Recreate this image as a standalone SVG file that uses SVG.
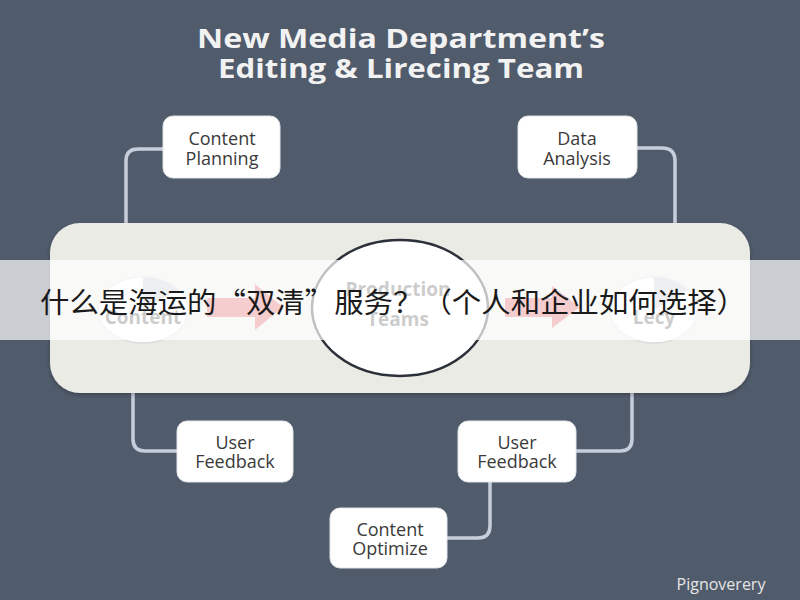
<svg xmlns="http://www.w3.org/2000/svg" width="800" height="600" viewBox="0 0 800 600">
<defs>
<style>
.title{font-family:"Open Sans","Liberation Sans",sans-serif;font-weight:700;font-size:27px;fill:#f2f2f2;text-anchor:middle}
.box{fill:#ffffff;stroke:#e3e6ea;stroke-width:1}
.lbl{font-family:"Open Sans","Liberation Sans",sans-serif;font-size:18px;fill:#3a3a3a;text-anchor:middle}
.conn{fill:none;stroke:#c7cedb;stroke-width:3.5;stroke-linecap:round}
.ctext{font-family:"Open Sans","Liberation Sans",sans-serif;font-weight:700;font-size:19px;fill:#555555;text-anchor:middle}
.arrow{fill:#e2575d}
</style>
<filter id="sh" x="-10%" y="-10%" width="120%" height="130%">
<feDropShadow dx="0" dy="2" stdDeviation="2" flood-color="#000" flood-opacity="0.25"/>
</filter>
</defs>
<rect x="0" y="0" width="800" height="600" fill="#505b6b"/>
<text class="title" x="401" y="48" textLength="408" lengthAdjust="spacingAndGlyphs">New Media Department’s</text>
<text class="title" x="401" y="78" textLength="366" lengthAdjust="spacingAndGlyphs">Editing &amp; Lirecing Team</text>

<g id="connectors">
<path class="conn" d="M163,149 H138 Q126,149 126,161 V225"/>
<path class="conn" d="M637,148 H662 Q675,148 675,161 V225"/>
<path class="conn" d="M133,392 V439 Q133,451 145,451 H177"/>
<path class="conn" d="M576,451 H620 Q632,451 632,439 V392"/>
<path class="conn" d="M490,482 V526 Q490,538 478,538 H447"/>
</g>

<g id="panel">
<rect x="50" y="223" width="700" height="170" rx="30" fill="#ebebe5" filter="url(#sh)"/>
</g>

<g id="flow-arrows">
<polygon class="arrow" points="207,298 255,298 255,284 283,307 255,330 255,317 207,317"/>
<polygon class="arrow" points="505,298 552,298 552,286 580,307 552,328 552,317 505,317"/>
</g>

<g id="node-content">
<ellipse cx="143" cy="310" rx="45" ry="33" fill="#ffffff" stroke="#dcdcdc" stroke-width="1.5"/>
<path d="M143,310 V277 A45,33 0 0 1 178,290 Z" fill="#c4c9d2"/>
<text class="ctext" x="143" y="324" font-size="16">Content</text>
</g>

<g id="node-teams">
<ellipse cx="400" cy="308" rx="88" ry="68" fill="#ffffff" stroke="#2c3038" stroke-width="2.5"/>
<text class="ctext" x="398" y="296">Production</text>
<text class="ctext" x="398" y="326">Teams</text>
</g>

<g id="node-policy">
<ellipse cx="654" cy="310" rx="44" ry="33" fill="#ffffff" stroke="#dcdcdc" stroke-width="1.5"/>
<path d="M654,310 V277 A44,33 0 0 1 688,290 Z" fill="#c4c9d2"/>
<text class="ctext" x="654" y="324" font-size="16">Lecy</text>
</g>

<g id="node-content-planning">
<rect class="box" x="163" y="116" width="117" height="62" rx="10"/>
<text class="lbl" x="222" y="145">Content</text>
<text class="lbl" x="222" y="165">Planning</text>
</g>

<g id="node-data-analysis">
<rect class="box" x="518" y="116" width="119" height="62" rx="10"/>
<text class="lbl" x="577" y="145">Data</text>
<text class="lbl" x="577" y="165">Analysis</text>
</g>

<g id="node-user-feedback-1">
<rect class="box" x="177" y="421" width="116" height="61" rx="10"/>
<text class="lbl" x="235" y="449">User</text>
<text class="lbl" x="235" y="468">Feedback</text>
</g>

<g id="node-user-feedback-2">
<rect class="box" x="458" y="421" width="118" height="61" rx="10"/>
<text class="lbl" x="517" y="449">User</text>
<text class="lbl" x="517" y="468">Feedback</text>
</g>

<g id="node-content-optimize">
<rect class="box" x="330" y="508" width="117" height="60" rx="10"/>
<text class="lbl" x="390" y="536">Content</text>
<text class="lbl" x="390" y="555">Optimize</text>
</g>

<text x="721" y="590" font-family="'Open Sans','Liberation Sans',sans-serif" font-size="16" fill="#e6e6e6" text-anchor="middle">Pignoverery</text>

<g id="overlay">
<rect x="0" y="260" width="800" height="80" fill="#ffffff" fill-opacity="0.7"/>
<text x="40" y="313" font-family="'Noto Sans CJK SC','Noto Sans',sans-serif" font-size="28" fill="#1a1a1a" textLength="706" lengthAdjust="spacingAndGlyphs">什么是海运的“双清”服务？（个人和企业如何选择）</text>
</g>
</svg>
